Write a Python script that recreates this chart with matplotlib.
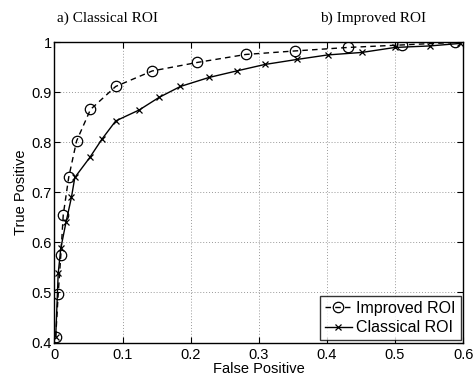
import matplotlib
matplotlib.use("Agg")
import matplotlib.pyplot as plt
from matplotlib.ticker import FixedLocator, FixedFormatter

improved_fp = [0.002, 0.0056, 0.0095, 0.013, 0.021, 0.0326, 0.053, 0.090, 0.1436, 0.2097, 0.281, 0.353, 0.431, 0.510, 0.588]
improved_tp = [0.412, 0.497, 0.575, 0.655, 0.730, 0.803, 0.866, 0.912, 0.943, 0.960, 0.976, 0.983, 0.990, 0.995, 1.000]

classical_fp = [0.002, 0.0056, 0.0095, 0.017, 0.025, 0.030, 0.052, 0.070, 0.090, 0.1245, 0.1535, 0.185, 0.227, 0.2675, 0.309, 0.356, 0.401, 0.451, 0.500, 0.551, 0.595]
classical_tp = [0.412, 0.538, 0.589, 0.640, 0.690, 0.730, 0.770, 0.807, 0.843, 0.865, 0.890, 0.912, 0.930, 0.943, 0.956, 0.966, 0.975, 0.980, 0.990, 0.993, 0.998]

x_ticks = [0, 0.1, 0.2, 0.3, 0.4, 0.5, 0.6]
x_labels = ["0", "0.1", "0.2", "0.3", "0.4", "0.5", "0.6"]
y_ticks = [0.4, 0.5, 0.6, 0.7, 0.8, 0.9, 1.0]
y_labels = ["0.4", "0.5", "0.6", "0.7", "0.8", "0.9", "1"]

plt.rcParams['font.family'] = ['Liberation Sans', 'DejaVu Sans']

fig = plt.figure(figsize=(4.77, 3.79), dpi=100)
ax = fig.add_axes([0.114, 0.0963, 0.857, 0.7917])

ax.plot(improved_fp, improved_tp, linestyle=(0, (4, 3)), color='black', lw=1.0,
        marker='o', markersize=7.5, markerfacecolor='none', markeredgecolor='black',
        markeredgewidth=0.9, label='Improved ROI')
ax.plot(classical_fp, classical_tp, linestyle='-', color='black', lw=1.0,
        marker='x', markersize=4.5, markeredgewidth=0.9, label='Classical ROI')

ax.set_xlim(0, 0.6)
ax.set_ylim(0.4, 1.0)
ax.xaxis.set_major_locator(FixedLocator(x_ticks))
ax.xaxis.set_major_formatter(FixedFormatter(x_labels))
ax.yaxis.set_major_locator(FixedLocator(y_ticks))
ax.yaxis.set_major_formatter(FixedFormatter(y_labels))
ax.tick_params(direction='in', top=True, right=True, length=4, labelsize=10.5)
ax.tick_params(axis='x', pad=4)
ax.tick_params(axis='y', pad=2)
ax.grid(True, linestyle=(0, (1, 2)), color='#999999', lw=0.7)
for s in ax.spines.values():
    s.set_linewidth(1.0)

ax.set_xlabel('False Positive', fontsize=10.5, labelpad=0)
ax.set_ylabel('True Positive', fontsize=10.5, labelpad=2)

leg = ax.legend(loc='lower right', fontsize=11.5, handlelength=1.7, handletextpad=0.3,
                borderpad=0.3, labelspacing=0.3, fancybox=False, borderaxespad=0.15)
leg.get_frame().set_edgecolor('black')
leg.get_frame().set_linewidth(1.0)

fig.text(0.12, 0.952, 'a) Classical ROI', fontsize=11, family=['Liberation Serif', 'DejaVu Serif'], va='center')
fig.text(0.67, 0.952, 'b) Improved ROI', fontsize=11, family=['Liberation Serif', 'DejaVu Serif'], va='center')

fig.savefig('out.png', dpi=100)
